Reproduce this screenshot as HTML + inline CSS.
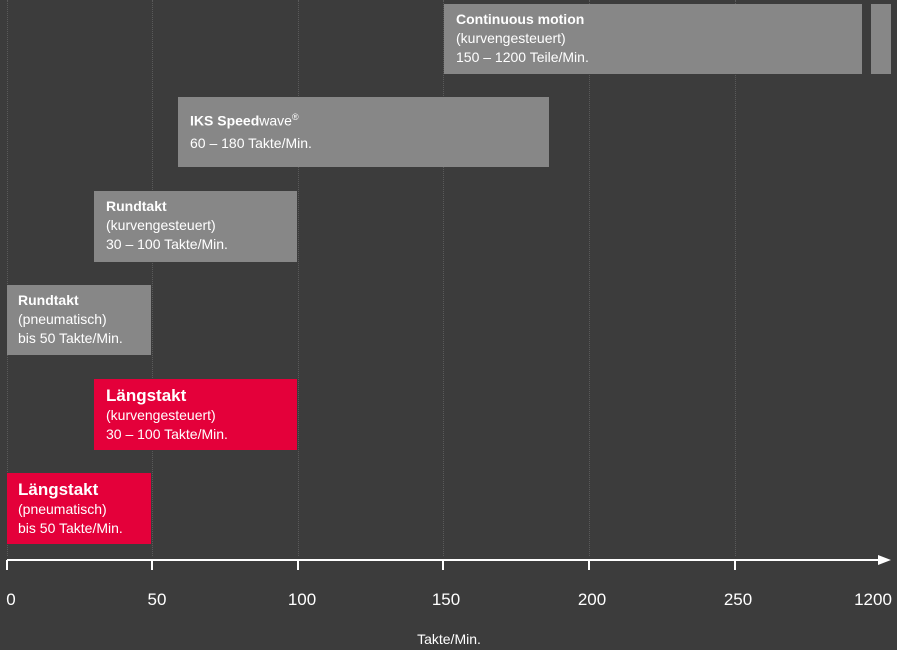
<!DOCTYPE html>
<html><head><style>
body{margin:0;background:#3c3c3c;width:897px;height:650px;overflow:hidden;position:relative;font-family:"Liberation Sans",sans-serif;color:#fff}
.g{position:absolute;top:0;height:556px;border-left:1px dotted #5a5a5a}
.b{position:absolute;box-sizing:border-box;padding:6px 0 0 12px;font-size:14px;line-height:19px}
.gr{background:#878787}.rd{background:#e4003a}
.b b{font-weight:bold}
.big{font-size:17px;font-weight:bold;line-height:20px}
.l{position:absolute;top:590px;font-size:17px;transform:translateX(-50%)}
</style></head><body>
<div class="g" style="left:7px"></div><div class="g" style="left:152px"></div><div class="g" style="left:298px"></div><div class="g" style="left:443px"></div><div class="g" style="left:589px"></div><div class="g" style="left:735px"></div>
<div class="b gr" style="left:444px;top:4px;width:418px;height:70px"><b>Continuous motion</b><br>(kurvengesteuert)<br>150 – 1200 Teile/Min.</div>
<div class="b gr" style="left:871px;top:4px;width:20px;height:70px"></div>
<div class="b gr" style="left:178px;top:97px;width:371px;height:70px;padding-top:9px;line-height:22px"><b>IKS Speed</b>wave<sup style="font-size:9px">®</sup><br>60 – 180 Takte/Min.</div>
<div class="b gr" style="left:94px;top:191px;width:203px;height:71px"><b>Rundtakt</b><br>(kurvengesteuert)<br>30 – 100 Takte/Min.</div>
<div class="b gr" style="left:7px;top:285px;width:144px;height:70px;padding-left:11px"><b>Rundtakt</b><br>(pneumatisch)<br>bis 50 Takte/Min.</div>
<div class="b rd" style="left:94px;top:379px;width:203px;height:71px;padding-top:7px"><div class="big">Längstakt</div>(kurvengesteuert)<br>30 – 100 Takte/Min.</div>
<div class="b rd" style="left:7px;top:473px;width:144px;height:71px;padding-top:7px;padding-left:11px"><div class="big">Längstakt</div>(pneumatisch)<br>bis 50 Takte/Min.</div>
<svg style="position:absolute;left:0;top:0" width="897" height="650">
<line x1="7" y1="560" x2="880" y2="560" stroke="#fff" stroke-width="2"/>
<polygon points="878,555 891,560 878,565" fill="#fff"/>
<g stroke="#fff" stroke-width="2"><line x1="7" y1="560" x2="7" y2="570"/><line x1="152" y1="560" x2="152" y2="570"/><line x1="298" y1="560" x2="298" y2="570"/><line x1="443" y1="560" x2="443" y2="570"/><line x1="589" y1="560" x2="589" y2="570"/><line x1="735" y1="560" x2="735" y2="570"/></g>
</svg>
<div class="l" style="left:11px">0</div><div class="l" style="left:157px">50</div><div class="l" style="left:302px">100</div><div class="l" style="left:446px">150</div><div class="l" style="left:592px">200</div><div class="l" style="left:738px">250</div><div class="l" style="left:873px">1200</div>
<div style="position:absolute;top:631px;left:449px;transform:translateX(-50%);font-size:14px">Takte/Min.</div>
</body></html>
